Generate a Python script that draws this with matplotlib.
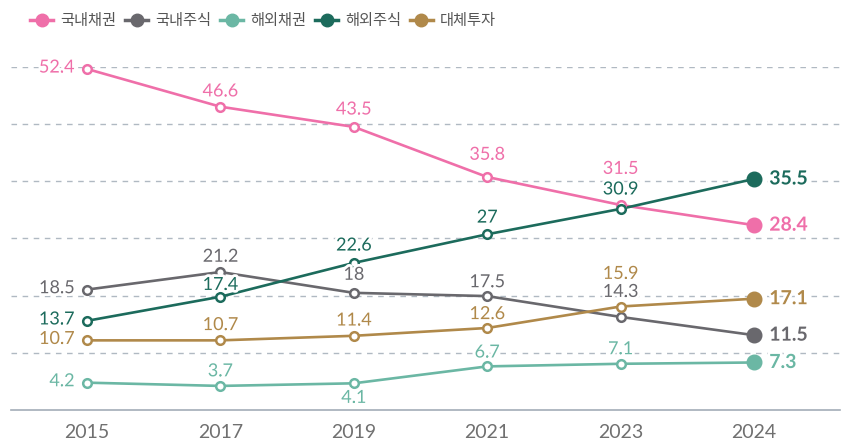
import matplotlib.pyplot as plt
import matplotlib.patheffects as pe
import numpy as np

plt.rcParams['font.family'] = ['Lato', 'Noto Sans CJK KR', 'DejaVu Sans']

years = ['2015', '2017', '2019', '2021', '2023', '2024']
names = ['국내채권', '국내주식', '해외채권', '해외주식', '대체투자']
dom_bond = [52.4, 46.6, 43.5, 35.8, 31.5, 28.4]
dom_stock = [18.5, 21.2, 18, 17.5, 14.3, 11.5]
for_bond = [4.2, 3.7, 4.1, 6.7, 7.1, 7.3]
for_stock = [13.7, 17.4, 22.6, 27, 30.9, 35.5]
alt_inv = [10.7, 10.7, 11.4, 12.6, 15.9, 17.1]
series = [dom_bond, dom_stock, for_bond, for_stock, alt_inv]
colors = ['#ef6fa9', '#69686d', '#6bb7a4', '#1c6b5c', '#b0894a']

# label offsets in points (dx, dy); first points sit left of marker
offsets = [
    [(-9, 1), (0, 11), (0, 12.5), (0, 16), (0, 26), None],
    [(-9, 1), (0, 11), (0, 13), (0, 10), (0, 18), None],
    [(-9, 1), (0, 10.5), (0, -10.5), (0, 10), (0, 10.5), None],
    [(-9, 1), (0, 8.5), (0, 12.5), (0, 12), (0, 14), None],
    [(-9, 1), (0, 11), (0, 11), (0, 10), (0, 23.5), None],
]

fig = plt.figure(figsize=(8.5, 4.48), dpi=100)
ax = fig.add_axes([11 / 850, 38 / 448, 829 / 850, 343 / 448])
x = np.arange(len(years))
ymax = 52.7
ax.set_xlim(-76 / 133.4, 5 + 86 / 133.4)
ax.set_ylim(0, ymax)

for gy in np.linspace(0, ymax, 7)[1:]:
    ax.axhline(gy, color='#b0b9c2', lw=1, ls=(0, (4, 4)), zorder=0)
for s in ['top', 'right', 'left']:
    ax.spines[s].set_visible(False)
ax.spines['bottom'].set_color('#a3adb7')
ax.spines['bottom'].set_linewidth(1.2)
ax.set_yticks([])
ax.set_xticks(x)
ax.set_xticklabels(years, fontsize=14, color='#707070')
ax.tick_params(axis='x', length=0, pad=10)

halo = [pe.withStroke(linewidth=4, foreground='white')]
for name, vals, c, offs in zip(names, series, colors, offsets):
    ax.plot(x, vals, color=c, lw=1.9, zorder=3)
    ax.plot(x[:-1], vals[:-1], ls='none', marker='o', ms=6.2, mfc='white',
            mec=c, mew=1.8, zorder=4, clip_on=False)
    ax.plot(x[-1], vals[-1], ls='none', marker='o', ms=10.5, color=c,
            zorder=4, clip_on=False)
    for i, v in enumerate(vals[:-1]):
        dx, dy = offs[i]
        ha = 'right' if dx < 0 else 'center'
        ax.annotate(f'{v:g}', (x[i], v), xytext=(dx, dy),
                    textcoords='offset points', ha=ha, va='center',
                    fontsize=13, color=c, zorder=5, path_effects=halo)
    ax.annotate(f'{vals[-1]:g}', (x[-1], vals[-1]), xytext=(11, 0),
                textcoords='offset points', ha='left', va='center',
                fontsize=14, fontweight='bold', color=c, zorder=5,
                path_effects=halo)

handles = [plt.Line2D([], [], color=c, lw=2.5, marker='o', ms=9) for c in colors]
fig.legend(handles, names, loc='center', bbox_to_anchor=(263 / 850, 1 - 21 / 448),
           ncol=5, frameon=False, fontsize=11, handlelength=1.5,
           handletextpad=0.45, columnspacing=0.6, labelcolor='#555555',
           borderpad=0, borderaxespad=0)

fig.savefig('out.png', dpi=100)
